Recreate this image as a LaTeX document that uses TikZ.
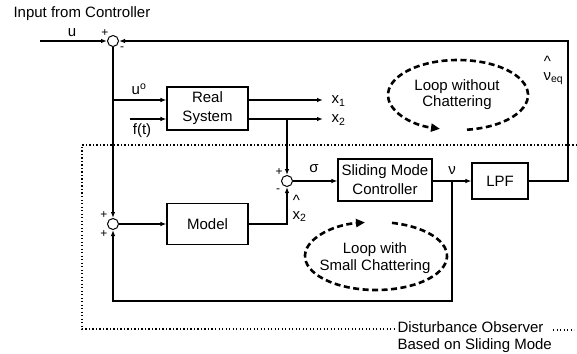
\documentclass[tikz,border=0pt]{standalone}
\usepackage{fontspec}
\setmainfont{Liberation Sans}
\usetikzlibrary{arrows.meta,calc}
\newcommand\mysub[1]{\raisebox{-0.3ex}{\fontsize{10.5}{10.5}\selectfont #1}}
\newcommand\myhat[1]{\begin{tabular}[b]{@{}c@{}}\^{}\\[-3pt]#1\end{tabular}}
\begin{document}
\begin{tikzpicture}[x=1pt,y=-1pt,
  font=\fontsize{15}{17}\selectfont,
  line width=1.1pt,
  sum/.style={circle,draw,minimum size=11pt,inner sep=0pt,line width=1pt},
  blk/.style={draw,line width=1.1pt,align=center,inner sep=0pt,font=\fontsize{15}{19}\selectfont},
  arr/.style={-{Latex[length=6pt,width=4.5pt]}},
  dotline/.style={line width=1.1pt,dash pattern=on 1.3pt off 2.2pt},
  loopline/.style={line width=2.6pt,dash pattern=on 6pt off 3.5pt,-{Triangle[length=9pt,width=8pt]}},
  sgn/.style={inner sep=0pt,font=\fontsize{12}{12}\selectfont},
  lbl/.style={inner sep=0pt}]
\useasboundingbox (0,0) rectangle (577,353);

% title
\node[lbl,anchor=west] (title) at (13,14) {Input from Controller};

% summing junctions
\node[sum] (s1) at (113,41) {};
\node[sum] (s4) at (113,224) {};
\node[sum] (s3) at (287,181) {};

% blocks
\node[blk,minimum width=81pt,minimum height=43pt] (real) at (207.5,108.5) {Real\\System};
\node[blk,minimum width=81pt,minimum height=41pt] (model) at (207.5,224) {Model};
\node[blk,minimum width=94pt,minimum height=42pt] (smc) at (385,180) {Sliding Mode\\Controller};
\node[blk,minimum width=56pt,minimum height=36pt] (lpf) at (500,181) {LPF};

% coordinates
\coordinate (uin) at (40,41);
\coordinate (j1) at (113,100);
\coordinate (ft) at (130,119);
\coordinate (x1end) at (323,100);
\coordinate (x2end) at (323,119);
\coordinate (j2) at (287,119);
\coordinate (nu) at (452,181);
\coordinate (c2) at (568,41);
\coordinate (c3) at (113,301);

% connectors
\draw[arr] (uin) -- (s1.west);
\draw[arr] (s1.south) -- (s4.north);
\draw[arr] (j1) -- (real.west |- j1);
\draw[arr] (ft) -- (real.west |- ft);
\draw[arr] (real.east |- x1end) -- (x1end);
\draw[arr] (real.east |- x2end) -- (x2end);
\draw[arr] (j2) -- (s3.north);
\draw[arr] (s4.east) -- (model.west);
\draw[arr] (model.east) -| (s3.south);
\draw[arr] (s3.east) -- (s3.east -| smc.west);
\draw[arr] (smc.east |- s3) -- (lpf.west);
\draw[arr] (lpf.east) -| (c2) -- (s1.east);
\draw[arr] (nu) |- (c3) -- (s4.south);

% disturbance observer dotted frame
\draw[dotline] (577,145) -- (82,145) -- (82,329) -- (395,329);
\draw[dotline] (553,330) -- (574,330);
\node[lbl,anchor=west,align=left,font=\fontsize{15}{17}\selectfont] (dob) at (397,337.5) {Disturbance Observer\\Based on Sliding Mode};

% loops
\draw[loopline] ($(458,95)+(82.6:70 and 35)$) arc[start angle=82.6,end angle=-255.1,x radius=70,y radius=35];
\node[lbl,align=center,font=\fontsize{15}{16}\selectfont] (loop1) at (457,95) {Loop without\\Chattering};
\draw[loopline] ($(376,256)+(-77:71 and 34)$) arc[start angle=-77,end angle=261.1,x radius=71,y radius=34];
\node[lbl,align=center,font=\fontsize{15}{17}\selectfont] (loop2) at (375,258) {Loop with\\Small Chattering};

% labels
\node[lbl] (lu) at (72,33) {u};
\node[lbl] (luo) at (139,89) {u\textsuperscript{o}};
\node[lbl] (lft) at (142,131) {f(t)};
\node[lbl,anchor=west] (lx1) at (331,101) {x\mysub{1}};
\node[lbl,anchor=west] (lx2) at (331,120) {x\mysub{2}};
\node[lbl] (lsig) at (314,169) {σ};
\node[lbl,anchor=base west] (lx2h) at (292,219) {\myhat{x}\mysub{2}};
\node[lbl] (lnu) at (452,171) {ν};
\node[lbl,anchor=base west] (lnueq) at (543,80) {\myhat{ν}\mysub{eq}};

% signs
\node[sgn] (p1) at (105,33) {+};
\node[sgn] (m1) at (122,49) {-};
\node[sgn] (p3) at (279,172) {+};
\node[sgn] (m3) at (278,191) {-};
\node[sgn] (p4a) at (104,215) {+};
\node[sgn] (p4b) at (104,234) {+};
\end{tikzpicture}
\end{document}
